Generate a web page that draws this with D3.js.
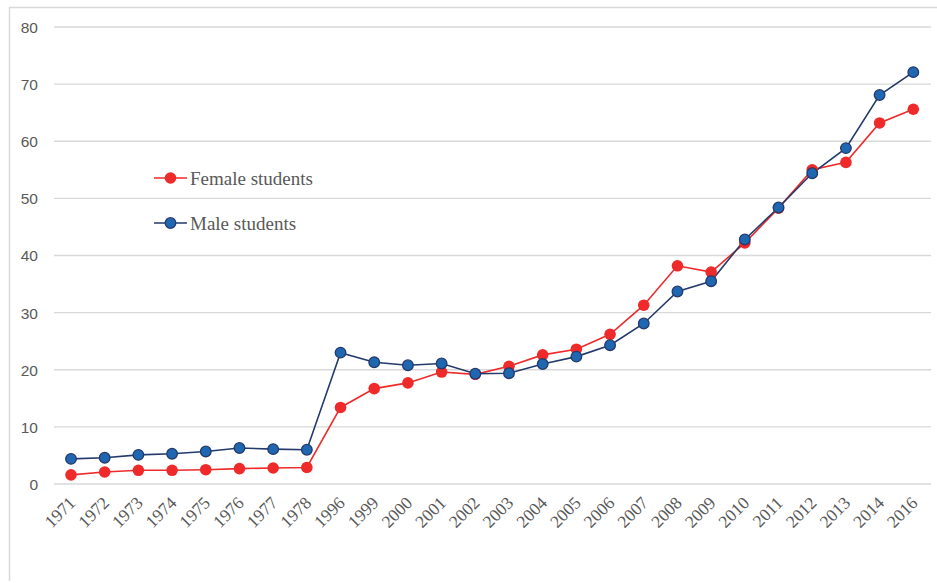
<!DOCTYPE html>
<html>
<head>
<meta charset="utf-8">
<script src="https://cdn.jsdelivr.net/npm/d3@7"></script>
<style>
  html, body { margin: 0; padding: 0; background: #fff; }
  svg { display: block; }
</style>
</head>
<body>
<svg id="chart" width="937" height="583"></svg>
<script>
const years = ["1971","1972","1973","1974","1975","1976","1977","1978","1996","1999","2000","2001","2002","2003","2004","2005","2006","2007","2008","2009","2010","2011","2012","2013","2014","2016"];
const female = [1.6,2.1,2.4,2.4,2.5,2.7,2.8,2.9,13.4,16.7,17.7,19.6,19.2,20.6,22.6,23.6,26.2,31.3,38.2,37.1,42.2,48.3,55.0,56.3,63.2,65.6];
const male = [4.4,4.6,5.1,5.3,5.7,6.3,6.1,6.0,23.0,21.3,20.8,21.1,19.3,19.4,21.0,22.3,24.3,28.1,33.7,35.5,42.8,48.4,54.4,58.8,68.1,72.1];
const yTicks = [0,10,20,30,40,50,60,70,80];
const seriesNames = ["Female students","Male students"];

const svg = d3.select("#chart");

// outer frame (left + top only visible)
svg.append("line").attr("x1",9.5).attr("x2",9.5).attr("y1",7).attr("y2",581)
  .attr("stroke","#d9d9d9").attr("stroke-width",1.5);
svg.append("line").attr("x1",9).attr("x2",937).attr("y1",7.5).attr("y2",7.5)
  .attr("stroke","#d9d9d9").attr("stroke-width",1.5);

const x = d3.scalePoint().domain(years).range([71, 913.3]);
const y = d3.scaleLinear().domain([0, 80]).range([484, 27]);

// gridlines
svg.append("g").selectAll("line").data(yTicks).join("line")
  .attr("x1", 54).attr("x2", 931)
  .attr("y1", d => y(d)).attr("y2", d => y(d))
  .attr("stroke", "#d9d9d9").attr("stroke-width", 1.3);

// y axis labels
const yAxis = d3.axisLeft(y).tickValues(yTicks).tickSize(0).tickPadding(0);
const gy = svg.append("g").attr("transform", "translate(38,0)").call(yAxis);
gy.select(".domain").remove();
gy.selectAll("text")
  .attr("font-family", "'Liberation Sans', Arial, sans-serif")
  .attr("font-size", 15.5).attr("fill", "#595959").attr("dy", "0.35em");

// x axis labels
const xAxis = d3.axisBottom(x).tickSize(0).tickPadding(0);
const gx = svg.append("g").attr("transform", "translate(0,484)").call(xAxis);
gx.select(".domain").remove();
gx.selectAll("text")
  .attr("font-family", "'Liberation Serif', 'Times New Roman', serif")
  .attr("font-size", 17.5).attr("fill", "#595959")
  .attr("text-anchor", "end")
  .attr("dy", 0).attr("y", 0)
  .attr("transform", "translate(5,20) rotate(-45)");

const line = d3.line().x((d, i) => x(years[i])).y(d => y(d));

const styles = [
  {data: female, stroke: "#ee2a2a", fill: "#ee2a2a", mstroke: "#ee2a2a", sw: 1.6},
  {data: male, stroke: "#243a6b", fill: "#1f67b1", mstroke: "#243a6b", sw: 1.6}
];

[0, 1].forEach(k => {
  const s = styles[k];
  svg.append("path").datum(s.data).attr("d", line)
    .attr("fill", "none").attr("stroke", s.stroke).attr("stroke-width", s.sw);
});
[0, 1].forEach(k => {
  const s = styles[k];
  svg.append("g").selectAll("circle").data(s.data).join("circle")
    .attr("cx", (d, i) => x(years[i])).attr("cy", d => y(d))
    .attr("r", k === 0 ? 5.8 : 5.3)
    .attr("fill", s.fill).attr("stroke", s.mstroke).attr("stroke-width", k === 0 ? 0 : 1.3);
});

// legend
const legendY = [178, 223];
seriesNames.forEach((name, k) => {
  const s = styles[k];
  const g = svg.append("g");
  g.append("line").attr("x1", 154).attr("x2", 187).attr("y1", legendY[k]).attr("y2", legendY[k])
    .attr("stroke", s.stroke).attr("stroke-width", 1.6);
  g.append("circle").attr("cx", 170.5).attr("cy", legendY[k])
    .attr("r", k === 0 ? 5.8 : 5.3)
    .attr("fill", s.fill).attr("stroke", s.mstroke).attr("stroke-width", k === 0 ? 0 : 1.3);
  g.append("text").attr("x", 190).attr("y", legendY[k]).attr("dy", "0.35em")
    .attr("font-family", "'Liberation Serif', 'Times New Roman', serif")
    .attr("font-size", 19).attr("fill", "#595959").text(name);
});
</script>
</body>
</html>
